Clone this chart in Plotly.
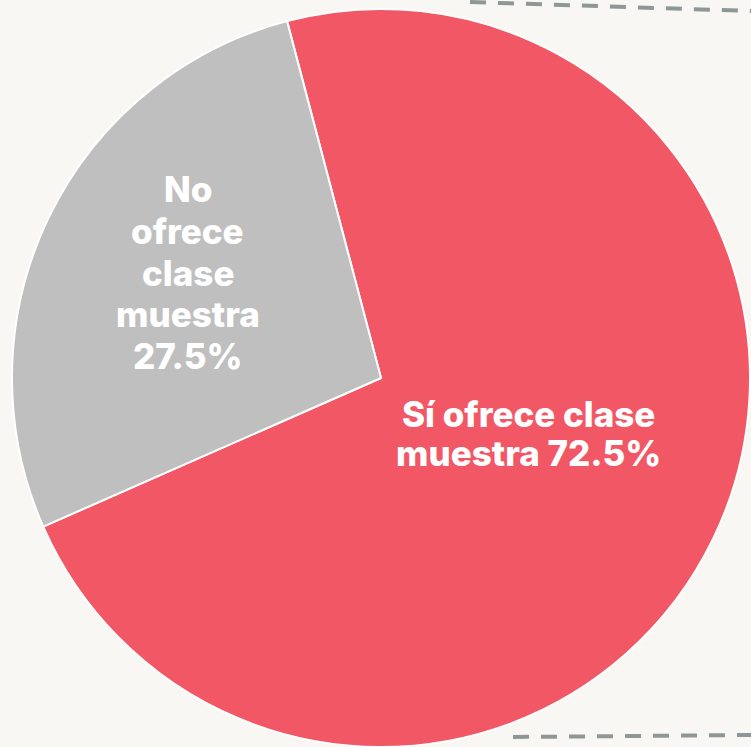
import plotly.graph_objects as go

categories = ["Sí ofrece clase muestra", "No ofrece clase muestra"]
values = [72.5, 27.5]
label_lines = [["Sí ofrece clase", "muestra {pct}"], ["No", "ofrece", "clase", "muestra", "{pct}"]]
colors = ["#F25765", "#BFBFBF"]

fig = go.Figure()
fig.add_trace(go.Pie(
    labels=categories,
    values=values,
    sort=False,
    direction="clockwise",
    rotation=-14.75,
    marker=dict(colors=colors, line=dict(color="#FFFFFF", width=2)),
    textinfo="none",
    hoverinfo="label+percent",
    showlegend=False,
    domain=dict(x=[11/751, 1.0], y=[0.0, 0.988]),
))

font_fam = "Inter, 'Open Sans', sans-serif"
# label block layout (pixel centre x, first-line y, line spacing)
label_layout = [(528.5, 413.5, 39.5), (187.5, 189, 41.75)]
for i in range(len(categories)):
    cx, y0, dy = label_layout[i]
    pct = f"{values[i]:.1f}%"
    for j, line in enumerate(label_lines[i]):
        y = y0 + j * dy
        fig.add_annotation(
            x=cx/751, y=1 - y/747, xref="paper", yref="paper",
            text=line.format(pct=pct), showarrow=False,
            font=dict(family=font_fam, size=35, color="#FFFFFF", weight=800),
            align="center", xanchor="center", yanchor="middle",
        )

# decorative dashed lines
fig.add_shape(type="line", xref="paper", yref="paper",
              x0=470/751, y0=1 - 2/747, x1=1.0, y1=1 - 11/747,
              line=dict(color="#8E9696", width=4, dash="16px,12px"))
fig.add_shape(type="line", xref="paper", yref="paper",
              x0=513/751, y0=1 - 737/747, x1=1.0, y1=1 - 735/747,
              line=dict(color="#8E9696", width=4, dash="16px,12px"))

fig.update_layout(
    width=751, height=747,
    margin=dict(l=0, r=0, t=0, b=0),
    paper_bgcolor="#F9F7F4",
    plot_bgcolor="#F9F7F4",
)
fig.write_html("out.html", config={"displayModeBar": False},
               post_script="document.body.style.margin='0';document.body.style.background='#F9F7F4';")
